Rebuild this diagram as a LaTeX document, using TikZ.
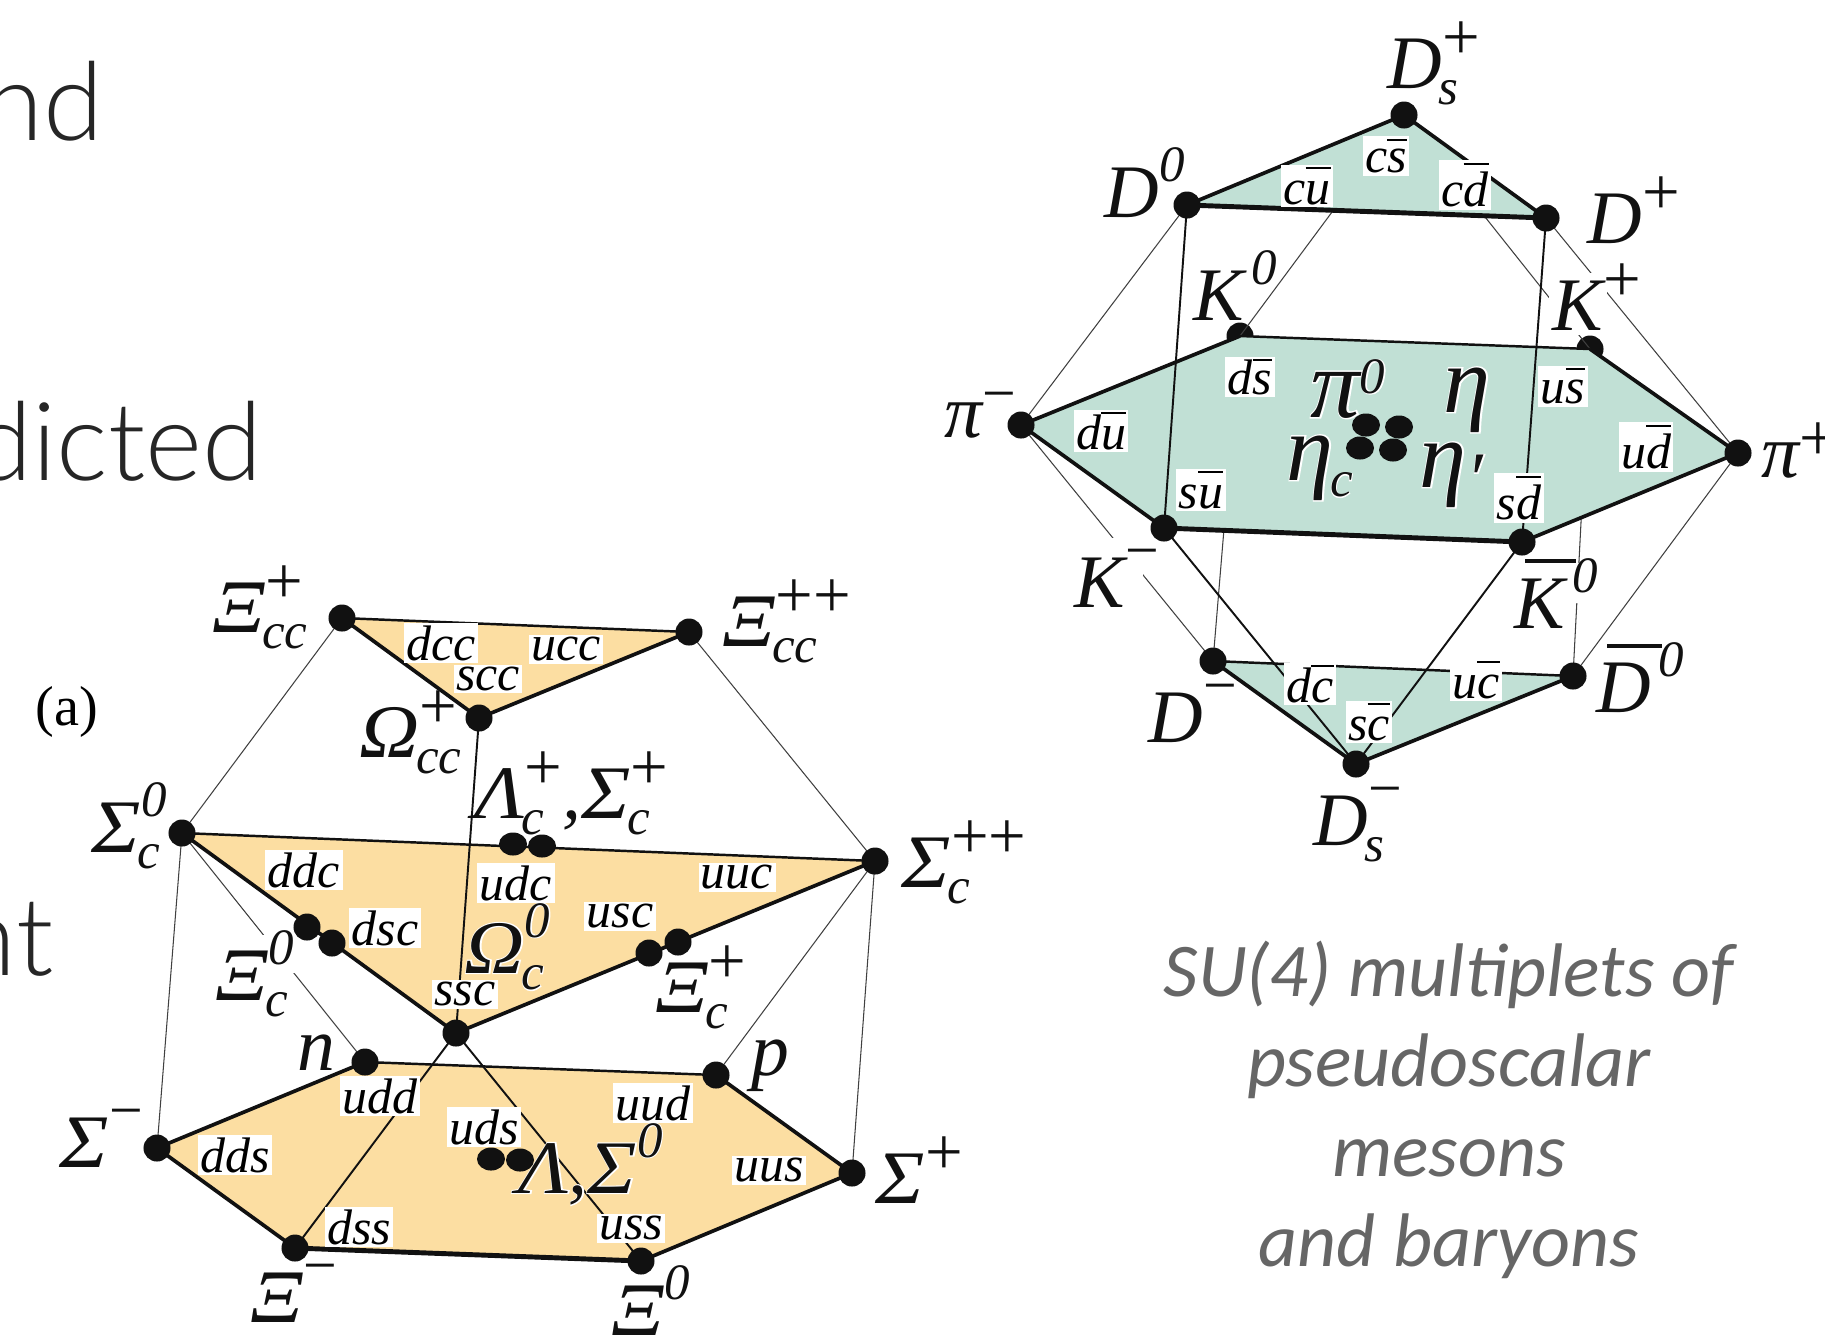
\documentclass[tikz,border=0pt]{standalone}
\usepackage{fontspec}
\usepackage{xcolor}
\setmainfont{Liberation Serif}
\newfontfamily\slidefont[UprightFont=* Light]{Lato}
\newfontfamily\captionfont{Carlito}
\usetikzlibrary{backgrounds,shapes.geometric}
\definecolor{mesonfill}{HTML}{C1E0D5}
\definecolor{baryonfill}{HTML}{FCDEA2}
\definecolor{inkblack}{HTML}{111111}
\newcommand{\pfont}{\fontsize{21.5}{21.5}\selectfont\itshape}
\newcommand{\sfont}{\fontsize{14.5}{14.5}\selectfont}
\newcommand{\qfont}{\fontsize{14.2}{14.2}\selectfont\itshape}
\newcommand{\ptl}[3]{#1\rlap{\kern-1pt\smash{\raisebox{-4.8pt}{\sfont #2}}}\raisebox{11.5pt}{\sfont #3}}
\newcommand{\ptllow}[3]{#1\rlap{\kern-1pt\smash{\raisebox{-4.8pt}{\sfont #2}}}\raisebox{8pt}{\sfont #3}}
\newcommand{\qbar}[2]{\setbox0=\hbox{#1}\rlap{\rule[#2]{\wd0}{0.6pt}}\box0 }
\newcommand{\pbar}[2]{\setbox0=\hbox{#1}\rlap{\hskip3pt\rule[#2]{\wd0}{1.1pt}}\box0\kern2pt }
\newcommand{\whitebase}[4]{\setbox0=\hbox{#1}\rlap{\color{white}\kern-1pt\rule[#4]{\dimexpr\wd0+1pt+#2}{\dimexpr\ht0+#3-#4}}\box0 }
\newcommand{\halo}[1]{\rlap{\color{white}\addfontfeature{FakeBold=3}#1}#1}
\newcommand{\gk}[1]{\scalebox{1.1}[1]{#1}}
\newcommand{\plus}{\raisebox{-3.4pt}{\fontsize{19}{19}\selectfont\upshape +}}
\newcommand{\minus}{\raisebox{-1.2pt}{\fontsize{17}{17}\selectfont\upshape −}}
\newcommand{\zero}{\raisebox{-1.3pt}{0}}
\tikzset{
  pdot/.style={circle, fill=inkblack, inner sep=0pt, minimum size=0.27cm},
  pdotflat/.style={ellipse, fill=inkblack, inner sep=0pt, minimum width=0.28cm, minimum height=0.23cm},
  thinline/.style={draw=black!75, line width=0.3pt},
  midline/.style={draw=inkblack, line width=0.55pt},
  backedge/.style={draw=inkblack, line width=0.7pt},
  sideedge/.style={draw=inkblack, line width=1.05pt},
  frontedge/.style={draw=inkblack, line width=1.4pt},
  qlab/.style={fill=white, inner sep=0.7pt, font=\qfont},
  plab/.style={anchor=base west, inner sep=0pt, font=\pfont, text=inkblack},
  slidetext/.style={anchor=base east, inner sep=0pt, font=\slidefont\fontsize{31}{31}\selectfont, text=black!85},
  captiontext/.style={align=center, inner sep=0pt, font=\captionfont\itshape\fontsize{21.6}{25.6}\selectfont, text=black!60}
}
\begin{document}
\begin{tikzpicture}[x=0.01cm,y=-0.01cm]
\useasboundingbox (0,0) rectangle (1825,1338);
\node[slidetext] (slidea) at (104,140) {nd};
\node[slidetext] (slideb) at (263,480) {dicted};
\node[slidetext] (slidec) at (54,975) {nt};

\node[qlab] (qcs) at (1386,156) {c\qbar{s}{9pt}};
\node[qlab] (qcu) at (1307,186) {c\qbar{u}{10pt}};
\node[qlab] (qcd) at (1465,185) {c\qbar{d}{12pt}};
\node[qlab] (qds) at (1250,377) {d\qbar{s}{9.5pt}};
\node[qlab] (qus) at (1563,386) {u\qbar{s}{9.5pt}};
\node[qlab] (qdu) at (1101,431) {d\qbar{u}{10pt}};
\node[qlab] (qud) at (1646,447) {u\qbar{d}{12pt}};
\node[qlab] (qsu) at (1201,490) {s\qbar{u}{10pt}};
\node[qlab] (qsd) at (1519,498) {s\qbar{d}{12pt}};
\node[qlab] (qdc) at (1310,684) {d\qbar{c}{10pt}};
\node[qlab] (quc) at (1476,680) {u\qbar{c}{10pt}};
\node[qlab] (qsc) at (1369,722) {s\qbar{c}{10pt}};

\node[plab] (labdsp) at (1387,88) {\ptl{D}{s}{\plus}};
\node[plab] (labdz) at (1104,217) {\ptl{D}{}{\zero}};
\node[plab] (labdp) at (1587,243) {\ptl{D}{}{\plus}};
\node[plab] (labkz) at (1193,320) {\ptl{K\kern2pt}{}{\zero}};
\node[plab] (labkp) at (1552,330) {\ptl{\whitebase{K}{1pt}{2pt}{-1.5pt}}{}{\plus}};
\node[plab] (labpim) at (944,437) {\ptllow{π}{}{\minus}};
\node[plab] (labpip) at (1761,477) {\ptllow{π}{}{\plus}};
\node[plab] (labpiz) at (1310,417) {\halo{\ptllow{\scalebox{1.3}{π}}{}{\zero}}};
\node[plab] (labeta) at (1443,412) {\halo{\scalebox{1.25}{η}}};
\node[plab] (labetac) at (1286,480) {\halo{\ptl{\scalebox{1.25}{η}}{c}{}}};
\node[plab] (labetap) at (1419,487) {\halo{\scalebox{1.25}{η}\raisebox{-5pt}{′}}};
\node[plab] (labkm) at (1074,607) {\ptl{\whitebase{K}{5pt}{5.5pt}{-1.5pt}}{}{\minus}};
\node[plab] (labkb) at (1514,628) {\ptl{\whitebase{\pbar{K}{18.5pt}}{3pt}{-1pt}{7pt}}{}{\zero}};
\node[plab] (labdm) at (1148,742) {\ptl{D}{}{\minus}};
\node[plab] (labdb) at (1596,712) {\ptl{\pbar{D}{18.2pt}}{}{\zero}};
\node[plab] (labdsm) at (1313,845) {\ptl{D}{s}{\minus}};

\node[qlab] (qdcc) at (441,643) {dcc};
\node[qlab] (qucc) at (566,649) {ucc};
\node[qlab] (qscc) at (488,679) {scc};
\node[qlab] (qddc) at (304,870) {ddc};
\node[qlab] (qudc) at (516,883) {udc};
\node[qlab] (quuc) at (737,877) {uuc};
\node[qlab] (qusc) at (620,916) {usc};
\node[qlab] (qdsc) at (385,928) {dsc};
\node[qlab] (qssc) at (465,994) {ssc};
\node[qlab] (qudd) at (380,1096) {udd};
\node[qlab] (quud) at (653,1103) {uud};
\node[qlab] (quds) at (484,1127) {uds};
\node[qlab] (qdds) at (235,1155) {dds};
\node[qlab] (quus) at (769,1170) {uus};
\node[qlab] (qdss) at (359,1227) {dss};
\node[qlab] (quss) at (631,1228) {uss};

\node[plab] (labxiccp) at (212,632) {\ptl{\gk{Ξ}}{cc}{\plus}};
\node[plab] (labxiccpp) at (722,646) {\ptl{\gk{Ξ}}{cc}{\plus\plus}};
\node[plab] (labomcc) at (359,757) {\ptl{\gk{Ω}}{cc}{\plus}};
\node[plab] (lablamc) at (474,818) {\ptl{\gk{Λ}}{c}{\plus},\ptl{\gk{Σ}}{c}{\plus}};
\node[plab] (labsigcz) at (91,852) {\ptl{\gk{Σ}}{c}{\zero}};
\node[plab] (labsigcpp) at (901,887) {\ptl{\gk{Σ}}{c}{\plus\plus}};
\node[plab] (labomcz) at (464,973) {\halo{\ptl{\gk{Ω}}{c}{\zero}}};
\node[plab] (labxicz) at (215,1000) {\ptl{\whitebase{\gk{Ξ}}{7.7pt}{4.3pt}{7.6pt}}{c}{\zero}};
\node[plab] (labxicp) at (655,1012) {\halo{\ptl{\gk{Ξ}}{c}{\plus}}};
\node[plab] (labn) at (297,1070) {n};
\node[plab] (labp) at (751,1075) {p};
\node[plab] (labsigm) at (59,1167) {\ptl{\gk{Σ}}{}{\minus}};
\node[plab] (labsigp) at (875,1203) {\ptl{\gk{Σ}}{}{\plus}};
\node[plab] (labxim) at (250,1322) {\ptl{\gk{Ξ}}{}{\minus}};
\node[plab] (labxiz) at (611,1335) {\ptl{\gk{Ξ}}{}{\zero}};
\node[plab] (lablam) at (518,1193) {\halo{\gk{Λ},\ptl{\gk{Σ}}{}{\zero}}};

\node[anchor=base west, inner sep=0pt, font=\fontsize{16}{16}\selectfont] (laba) at (35,725) {(a)};
\node[captiontext] (caption) at (1449,1110) {SU(4) multiplets of\\pseudoscalar\\mesons\\and baryons};

\node[pdot] (dsplus) at (1404,115) {};
\node[pdot] (dzero) at (1187,205) {};
\node[pdot] (dplus) at (1546,218) {};
\node[pdot] (pimin) at (1021,425) {};
\node[pdot] (piplus) at (1738,453) {};
\node[pdot] (kmin) at (1164,528) {};
\node[pdot] (kbar) at (1522,542) {};
\node[pdot] (dmin) at (1213,661) {};
\node[pdot] (dbar) at (1573,676) {};
\node[pdot] (dsmin) at (1356,764) {};
\node[pdotflat] (etaa) at (1366,425) {};
\node[pdotflat] (etab) at (1399,427) {};
\node[pdotflat] (etac) at (1360,448) {};
\node[pdotflat] (etad) at (1393,450) {};

\node[pdot] (xiccp) at (342,618) {};
\node[pdot] (xiccpp) at (689,632) {};
\node[pdot] (omcc) at (479,718) {};
\node[pdot] (sigcz) at (182,833) {};
\node[pdot] (sigcpp) at (875,861) {};
\node[pdotflat] (lamca) at (513,844) {};
\node[pdotflat] (lamcb) at (542,846) {};
\node[pdot] (xicz) at (307,927) {};
\node[pdot] (dscdot) at (332,943) {};
\node[pdot] (uscdot) at (649,953) {};
\node[pdot] (xicp) at (678,942) {};
\node[pdot] (sscdot) at (456,1033) {};
\node[pdot] (neutron) at (365,1062) {};
\node[pdot] (proton) at (716,1075) {};
\node[pdot] (sigmin) at (157,1148) {};
\node[pdot] (sigplus) at (852,1173) {};
\node[pdot] (ximin) at (295,1248) {};
\node[pdot] (xizero) at (641,1261) {};
\node[pdotflat] (lama) at (491,1159) {};
\node[pdotflat] (lamb) at (520,1160) {};

\begin{scope}[on background layer]
\node[pdot] (kzero) at (1240,336) {};
\node[pdot] (kplus) at (1590,349) {};
\draw[thinline] (dsplus.center) -- (kzero.center);
\draw[thinline] (dsplus.center) -- (kplus.center);
\draw[thinline] (dzero.center) -- (pimin.center);
\draw[thinline] (dplus.center) -- (piplus.center);
\draw[thinline] (pimin.center) -- (dmin.center);
\draw[thinline] (piplus.center) -- (dbar.center);
\draw[thinline] (kzero.center) -- (dmin.center);
\draw[thinline] (kplus.center) -- (dbar.center);
\fill[mesonfill] (dsplus.center) -- (dplus.center) -- (dzero.center) -- cycle;
\fill[mesonfill] (pimin.center) -- (kzero.center) -- (kplus.center) -- (piplus.center) -- (kbar.center) -- (kmin.center) -- cycle;
\fill[mesonfill] (dmin.center) -- (dbar.center) -- (dsmin.center) -- cycle;
\draw[sideedge] (dzero.center) -- (dsplus.center) -- (dplus.center);
\draw[frontedge] (dzero.center) -- (dplus.center);
\draw[sideedge] (kmin.center) -- (pimin.center) -- (kzero.center);
\draw[backedge] (kzero.center) -- (kplus.center);
\draw[sideedge] (kplus.center) -- (piplus.center) -- (kbar.center);
\draw[frontedge] (kmin.center) -- (kbar.center);
\draw[backedge] (dmin.center) -- (dbar.center);
\draw[sideedge] (dmin.center) -- (dsmin.center) -- (dbar.center);
\draw[midline] (dzero.center) -- (kmin.center);
\draw[midline] (dplus.center) -- (kbar.center);
\draw[midline] (kmin.center) -- (dsmin.center);
\draw[midline] (kbar.center) -- (dsmin.center);

\draw[thinline] (xiccp.center) -- (sigcz.center);
\draw[thinline] (xiccpp.center) -- (sigcpp.center);
\draw[thinline] (sigcz.center) -- (sigmin.center);
\draw[thinline] (sigcz.center) -- (neutron.center);
\draw[thinline] (sigcpp.center) -- (proton.center);
\draw[thinline] (sigcpp.center) -- (sigplus.center);
\fill[baryonfill] (xiccp.center) -- (xiccpp.center) -- (omcc.center) -- cycle;
\fill[baryonfill] (sigcz.center) -- (sigcpp.center) -- (sscdot.center) -- cycle;
\fill[baryonfill] (sigmin.center) -- (neutron.center) -- (proton.center) -- (sigplus.center) -- (xizero.center) -- (ximin.center) -- cycle;
\draw[backedge] (xiccp.center) -- (xiccpp.center);
\draw[sideedge] (xiccp.center) -- (omcc.center) -- (xiccpp.center);
\draw[backedge] (sigcz.center) -- (sigcpp.center);
\draw[sideedge] (sigcz.center) -- (sscdot.center) -- (sigcpp.center);
\draw[backedge] (neutron.center) -- (proton.center);
\draw[sideedge] (ximin.center) -- (sigmin.center) -- (neutron.center);
\draw[sideedge] (proton.center) -- (sigplus.center) -- (xizero.center);
\draw[frontedge] (ximin.center) -- (xizero.center);
\draw[midline] (omcc.center) -- (sscdot.center);
\draw[midline] (sscdot.center) -- (ximin.center);
\draw[midline] (sscdot.center) -- (xizero.center);
\end{scope}
\end{tikzpicture}
\end{document}
